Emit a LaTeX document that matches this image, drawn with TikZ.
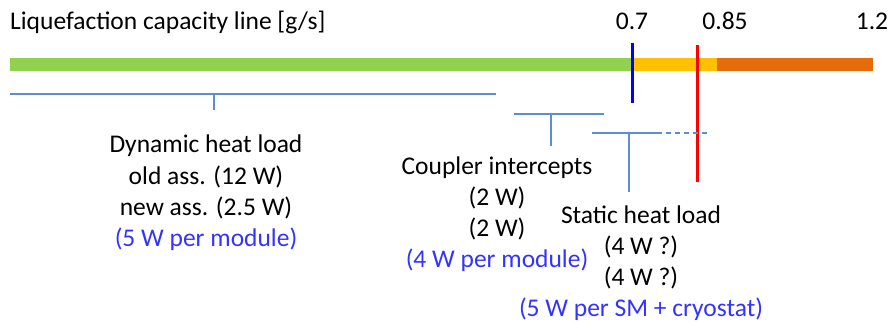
\documentclass[tikz,border=0pt]{standalone}
\usepackage{fontspec}
\setmainfont{Carlito}
\usepackage{array}
\definecolor{bargreen}{HTML}{92D050}
\definecolor{baryellow}{HTML}{FFC000}
\definecolor{barorange}{HTML}{E46C0A}
\definecolor{brk}{HTML}{5B8FCF}
\definecolor{txtblue}{HTML}{3333FF}
\tikzset{
  lbl/.style={inner sep=0pt, anchor=base, font=\fontsize{25.5}{31.3}\selectfont},
  bracket/.style={draw=brk, line width=1.2pt},
  marker/.style={line width=3pt},
}
\newcommand{\blk}[1]{\setlength{\tabcolsep}{0pt}\renewcommand{\arraystretch}{1}\begin{tabular}[t]{c}#1\end{tabular}}
\begin{document}
\begin{tikzpicture}[x=1pt,y=-1pt]
\useasboundingbox (0,0) rectangle (890,323);
% title and scale labels
\node[lbl, anchor=base west] (title) at (10,30) {Liquefaction capacity line [g/s]};
\node[lbl] (v07) at (632,30) {0.7};
\node[lbl] (v085) at (725,30) {0.85};
\node[lbl] (v12) at (872,30) {1.2};
% capacity bar
\fill[bargreen] (10,58) rectangle (632,71);
\fill[baryellow] (632,58) rectangle (717,71);
\fill[barorange] (717,58) rectangle (873,71);
% markers
\coordinate (bt) at (632,43); \coordinate (bb) at (632,103);
\coordinate (rt) at (697,45); \coordinate (rb) at (697,182);
\draw[marker, blue] (bt) -- (bb);
\draw[marker, red] (rt) -- (rb);
% brackets
\coordinate (d1) at (10,94); \coordinate (d2) at (496,94);
\coordinate (dt) at (214,94); \coordinate (de) at (214,110);
\draw[bracket] (d1) -- (d2); \draw[bracket] (dt) -- (de);
\coordinate (c1) at (514,114); \coordinate (c2) at (604,114);
\coordinate (ct) at (551,114); \coordinate (ce) at (551,146);
\draw[bracket] (c1) -- (c2); \draw[bracket] (ct) -- (ce);
\coordinate (s1) at (592,133); \coordinate (s2) at (657,133); \coordinate (s3) at (710,133);
\coordinate (st) at (629,133); \coordinate (se) at (629,192);
\draw[bracket] (s1) -- (s2); \draw[bracket, dash pattern=on 5pt off 4pt] (s2) -- (s3);
\draw[bracket] (st) -- (se);
% text blocks
\node[lbl] (dyn) at (206,153) {\blk{Dynamic heat load\\ old ass. (12 W)\\ new ass. (2.5 W)\\ \textcolor{txtblue}{(5 W per module)}}};
\node[lbl] (cpl) at (497,174) {\blk{Coupler intercepts\\ (2 W)\\ (2 W)\\ \textcolor{txtblue}{(4 W per module)}}};
\node[lbl] (sta) at (641,223) {\blk{Static heat load\\ (4 W ?)\\ (4 W ?)\\ \textcolor{txtblue}{(5 W per SM + cryostat)}}};
\end{tikzpicture}
\end{document}
